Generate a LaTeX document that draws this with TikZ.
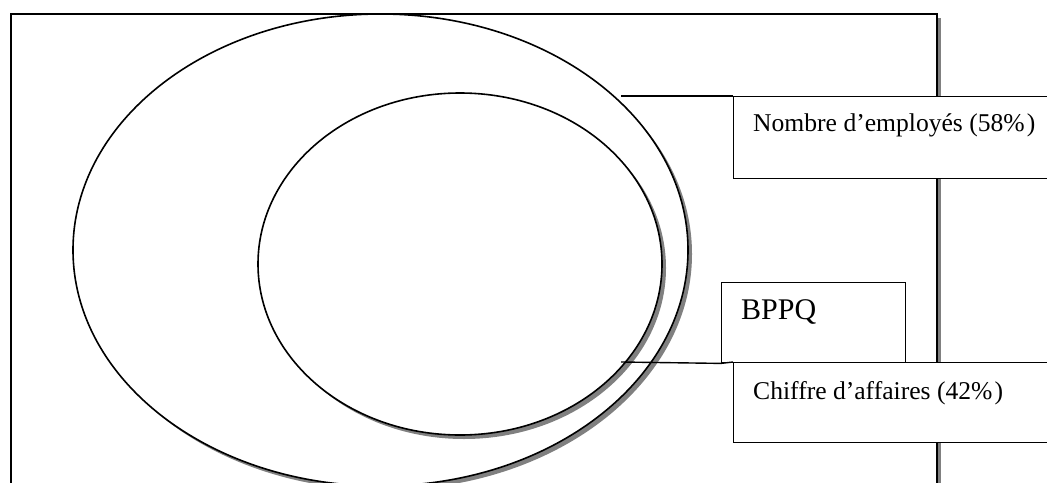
\documentclass[tikz,border=0pt]{standalone}
\usepackage{fontspec}
\setmainfont{Liberation Serif}
\usetikzlibrary{shapes.geometric}
\begin{document}
\begin{tikzpicture}[x=1pt,y=-1pt,
  shade/.style={fill=black!50,draw=none},
  outline/.style={draw=black,line width=1.6pt,fill=white},
  callout/.style={draw=black,line width=1.4pt},
  box/.style={draw=black,line width=1.4pt,fill=white,rectangle,inner sep=0pt,anchor=north west},
  lbl/.style={inner sep=0pt,anchor=base west,font=\fontsize{25.6}{30}\selectfont},
  big/.style={inner sep=0pt,anchor=base west,font=\fontsize{30}{35}\selectfont}]
\useasboundingbox (0,0) rectangle (1047,482);
\clip (0,0) rectangle (1047,482);
% frame
\fill[shade] (15,18) rectangle (941,520);
\draw[outline] (11,14) rectangle (937,516);
% outer ellipse
\fill[shade] (384.5,254) ellipse [x radius=307.5, y radius=236];
\draw[outline] (380.5,250) ellipse [x radius=307.5, y radius=236];
% inner ellipse
\fill[shade] (464,268) ellipse [x radius=202, y radius=171];
\draw[outline] (460,264) ellipse [x radius=202, y radius=171];
% boxes
\node[box,minimum width=184pt,minimum height=80pt] (bppq) at (721,282) {};
\node[box,minimum width=340pt,minimum height=82pt] (nb) at (733,96) {};
\node[box,minimum width=340pt,minimum height=80pt] (ca) at (733,362) {};
% callout lines
\coordinate (c1) at (621,96);
\coordinate (c2) at (621,362);
\draw[callout] (c1) -- (nb.north west);
\draw[callout] (c2) -- (bppq.south west) -- (ca.north west);
% labels
\node[lbl] (nbt) at (753,131) {Nombre d’employés (58\%\kern2pt)};
\node[lbl] (cat) at (753,399) {Chiffre d’affaires (42\%\kern2pt)};
\node[big] (bpt) at (741,319) {BPPQ};
\end{tikzpicture}
\end{document}
